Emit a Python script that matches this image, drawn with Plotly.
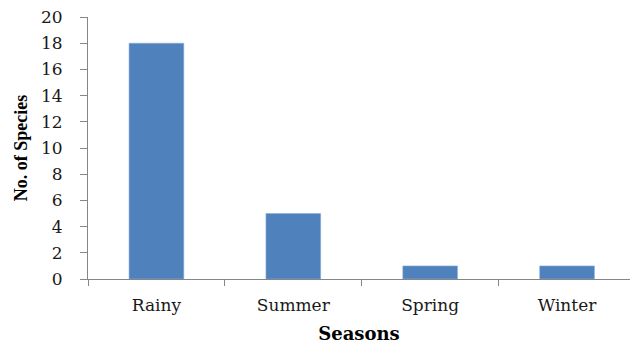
import plotly.graph_objects as go

# Number of species recorded per season
seasons = ["Rainy", "Summer", "Spring", "Winter"]
species_counts = [18, 5, 1, 1]
y_ticks = [0, 2, 4, 6, 8, 10, 12, 14, 16, 18, 20]

serif = "Liberation Serif, Times New Roman, serif"
wide_serif = "DejaVu Serif, Liberation Serif, serif"
axis_grey = "#868686"

fig = go.Figure(
    go.Bar(
        x=seasons,
        y=species_counts,
        marker=dict(color="#4F81BD", line=dict(color="#8EAEDB", width=0.6)),
        width=0.4,
    )
)

fig.update_layout(
    width=630,
    height=349,
    margin=dict(l=88, r=0, t=17, b=70),
    paper_bgcolor="white",
    plot_bgcolor="white",
    showlegend=False,
    font=dict(family=serif, color="black", size=16),
)

fig.update_xaxes(
    range=[-0.5, 3.46],
    showline=True,
    linecolor=axis_grey,
    linewidth=1,
    ticks="outside",
    tickson="boundaries",
    ticklen=6,
    tickcolor=axis_grey,
    tickfont=dict(family=wide_serif, size=17, color="#1a1a1a"),
    ticklabelstandoff=11,
    showgrid=False,
    title=dict(text="<b>Seasons</b>", font=dict(family=wide_serif, size=18), standoff=12),
)

fig.update_yaxes(
    range=[0, 20],
    tickvals=y_ticks,
    showline=True,
    linecolor=axis_grey,
    linewidth=1,
    ticks="outside",
    ticklen=7,
    tickcolor=axis_grey,
    tickfont=dict(family=wide_serif, size=17, color="#1a1a1a"),
    ticklabelstandoff=14,
    showgrid=False,
    zeroline=False,
    title=dict(text="<b>No. of Species</b>", font=dict(family=serif, size=18), standoff=8),
)

fig.write_html("out.html")
